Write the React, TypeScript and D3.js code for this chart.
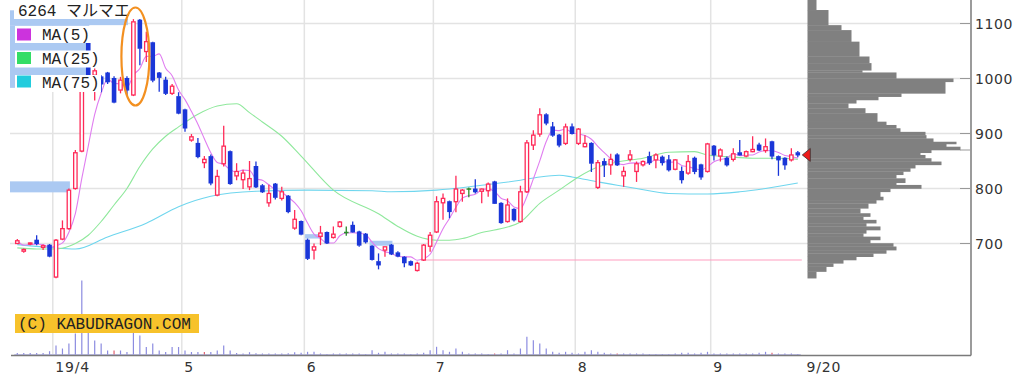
import React from "react";
import * as d3 from "d3";

const opens = [700,686,699,706,693,697,639,708,727,800,868,1072,1006,1003,1010,1000,979,1000,970,1106,1049,1065,1010,997,973,967,943,888,882,847,858,788,845,867,823,816,803,840,805,774,808,782,786,728,740,706,688,713,720,711,731,720,733,721,717,695,667,688,697,683,675,667,651,670,695,721,774,776,776,791,799,799,795,796,812,773,740,762,740,794,879,899,934,912,897,882,912,882,876,882,802,849,843,861,823,853,831,843,858,852,857,852,835,831,828,855,843,831,877,859,855,853,865,859,867,879,869,885,858,855,852,865];
const highs = [708,691,702,715,698,699,708,742,800,870,1003,1080,1018,1006,1012,1004,1003,1004,1108,1108,1085,1067,1012,1003,990,975,945,899,892,859,862,834,914,869,846,834,850,849,808,807,810,803,788,761,742,709,700,732,722,731,741,731,740,723,719,697,682,694,699,686,677,669,667,699,721,786,791,778,823,799,802,817,800,811,814,775,782,764,805,888,906,946,937,921,899,918,918,910,897,884,852,855,863,864,840,870,849,851,867,864,860,861,853,840,861,858,845,883,879,873,858,873,888,869,895,883,891,887,860,857,873,868];
const lows = [699,683,697,697,688,675,637,706,725,798,866,985,960,975,990,955,973,968,968,1024,1030,993,976,970,970,935,903,885,855,837,806,786,840,807,815,799,797,801,792,767,780,778,755,725,715,670,671,697,699,709,729,714,720,694,700,669,653,676,679,675,657,659,649,668,685,719,743,746,757,776,784,791,773,785,772,736,738,740,738,792,870,894,915,894,875,879,898,879,875,830,799,821,825,841,803,849,812,840,843,837,842,831,833,809,825,826,816,829,851,849,840,849,860,857,866,868,865,853,823,834,849,857];
const closes = [705,689,701,700,696,677,706,727,797,865,997,1000,1014,990,994,957,997,979,1103,1055,1067,997,1002,973,986,937,910,894,858,853,810,822,877,809,831,828,818,803,794,791,784,794,758,744,717,673,694,719,701,717,739,720,721,697,703,671,661,694,681,677,665,661,664,697,715,776,782,758,799,797,799,794,799,808,773,738,770,743,794,883,897,934,919,897,879,912,900,908,882,846,847,843,853,843,831,861,845,849,847,861,847,834,852,816,849,831,821,881,861,870,843,863,861,867,871,870,876,859,852,843,861,861];
const volumes = [30,30,30,30,30,66,180,120,220,420,1480,440,280,220,80,80,80,50,440,380,150,220,80,50,150,150,80,50,50,50,50,80,180,80,30,20,46,26,20,20,20,20,26,46,34,54,54,20,10,20,20,20,20,20,10,86,34,54,20,20,20,10,20,34,86,154,86,54,120,54,20,20,20,10,20,20,86,20,120,354,286,220,120,54,34,54,34,20,54,86,54,34,20,20,20,20,20,20,10,10,10,10,20,34,34,20,34,54,20,20,20,20,20,20,20,34,54,34,20,20,20,10];
const volumeRedDays = [15, 29, 74, 93, 117];

const ma25Idx = [0,3,6,8,9,11,13,15,17,19,21,23,25,28,31,34,36,38,41,44,49,56,59,62,65,67,69,72,76,78,81,84,87,90,93,97,101,105,107,110,114,118,121];
const ma25Val = [692,690,690,695,700,715,740,770,800,840,872,895,912,935,950,954,938,921,895,859,797,754,731,713,706,706,709,720,730,739,773,797,821,839,848,855,866,867,861,858,855,855,853];
const ma75Idx = [0,5,9,14,20,25,30,37,45,55,58,65,67,72,78,81,84,86,90,93,96,101,107,112,116,121];
const ma75Val = [698,693,690,712,737,767,786,795,797,796,794,797,799,806,815,821,824,821,812,806,800,791,790,794,800,810];

const priceTicks = [700, 800, 900, 1000, 1100];
const monthIdx = [6, 26, 45, 65, 87, 108];
const monthLabels = ["19/4", "5", "6", "7", "8", "9"];
const lastLabel = "9/20";

// gaps: [startIdx (-1 = before window), endIdx, low, high]
const gapStart = [-1, -1, -1, 45, 55];
const gapEnd = [8, 17, 11, 47, 58];
const gapLow = [793, 1097, 983, 709, 696];
const gapHigh = [813, 1124, 1097, 717, 705];

const supportPrice = 670;
const supportFrom = 63;

// volume-by-price profile
const histEdges = [1143,1124.5,1097,1088,1067,1040,1028,1015,1011,1000,994,973,967,961,955,946,937,921.5,915.5,909.5,903,897,891,885,881,876,870,865,861,855,849,843,837,831,825,818.5,810.5,806.5,800,794,785,779,773,764,755,749,743,737,731,724.5,718.5,712.5,706.5,700.5,694.5,688,682,676,670,664,658,649,637];
const histVol = [9,21,34,44,52,62,64,55,89,146,138,94,71,49,41,58,70,79,89,93,118,119,126,149,139,153,124,113,118,124,134,108,103,96,89,98,89,114,83,73,76,69,61,53,63,56,69,59,73,59,56,73,63,86,89,79,66,49,36,26,19,9];

const legendNames = ["MA(5)", "MA(25)", "MA(75)"];
const title = "6264 マルマエ";
const copyright = "(C) KABUDRAGON.COM";

export default function App() {
  const x = d3.scaleLinear().domain([0, 121]).range([17.3, 797.8]);
  const y = d3.scaleLinear().domain([700, 1100]).range([243.5, 23.5]);
  const step = x(1) - x(0);
  const vy = d3.scaleLinear().domain([0, 1480]).range([354.5, 280.5]);
  const hx = d3.scaleLinear().domain([0, 153]).range([807.5, 960.5]);

  const plotLeft = 10, plotRight = 971, plotBottom = 355.5;

  const ma5 = closes.map((_, i) => {
    const s = closes.slice(Math.max(0, i - 4), i + 1);
    return d3.mean(s) as number;
  });
  const line = d3.line<[number, number]>().x(d => x(d[0])).y(d => y(d[1])).curve(d3.curveMonotoneX);
  const ma5Path = line(ma5.map((v, i) => [i, v] as [number, number])) || "";
  const ma25Path = line(ma25Idx.map((i, k) => [i, ma25Val[k]] as [number, number])) || "";
  const ma75Path = line(ma75Idx.map((i, k) => [i, ma75Val[k]] as [number, number])) || "";

  const RED = "#ff2a58";
  const BLUE = "#1a36d8";
  const GREEN = "#2a8a2a";
  const bodyW = 4.6;

  const legendColors = ["#cc33dd", "#33dd66", "#22ccdd"];
  const axisFont = "'DejaVu Sans', Verdana, sans-serif";
  const monoFont = "'Liberation Mono', 'DejaVu Sans Mono', 'Noto Sans CJK JP', monospace";

  const lastY = y(closes[closes.length - 1]);
  const lastX = x(closes.length - 1);

  return (
    <svg width={1024} height={383} style={{ position: "absolute", left: 0, top: 0 }}>
      <rect x={0} y={0} width={1024} height={383} fill="#fff" />
      {/* grid */}
      {priceTicks.map(p => (
        <line key={"h" + p} x1={plotLeft} x2={plotRight} y1={y(p)} y2={y(p)} stroke="#e3e3e3" strokeWidth={1.5} />
      ))}
      {monthIdx.map(i => (
        <line key={"v" + i} x1={x(i) - step / 2} x2={x(i) - step / 2} y1={0} y2={plotBottom} stroke="#e3e3e3" strokeWidth={1.5} />
      ))}
      {/* gaps */}
      {gapStart.map((s, k) => {
        const x1 = s < 0 ? plotLeft : x(s) - 2.5;
        const x2 = x(gapEnd[k]) + 1;
        return <rect key={"g" + k} x={x1} y={y(gapHigh[k])} width={x2 - x1} height={y(gapLow[k]) - y(gapHigh[k])} fill="#abc9f2" />;
      })}
      {/* support line */}
      <line x1={x(supportFrom) - 2} x2={lastX + 4} y1={y(supportPrice)} y2={y(supportPrice)} stroke="#ff9ec0" strokeWidth={1.2} />
      {/* volume */}
      <line x1={x(0) - 3} x2={lastX + 3} y1={354.5} y2={354.5} stroke="#c4c4ee" strokeWidth={1} />
      {volumes.map((v, i) => (
        <line key={"vol" + i} x1={x(i)} x2={x(i)} y1={vy(0)} y2={vy(v)}
          stroke={volumeRedDays.includes(i) ? "#e06070" : "#8c8ce0"} strokeWidth={1.2} />
      ))}
      {/* MA lines */}
      <path d={ma75Path} fill="none" stroke="#6fd6ee" strokeWidth={1.1} />
      <path d={ma25Path} fill="none" stroke="#8fe89c" strokeWidth={1.1} />
      <path d={ma5Path} fill="none" stroke="#e07ef0" strokeWidth={1.1} />
      {/* candles */}
      {closes.map((c, i) => {
        const o = opens[i];
        const cx = x(i);
        const up = c > o;
        const doji = c === o;
        const col = doji ? GREEN : up ? RED : BLUE;
        const top = y(Math.max(o, c));
        const bot = y(Math.min(o, c));
        return (
          <g key={"c" + i}>
            <line x1={cx} x2={cx} y1={y(highs[i])} y2={top} stroke={col} strokeWidth={1.3} />
            <line x1={cx} x2={cx} y1={bot} y2={y(lows[i])} stroke={col} strokeWidth={1.3} />
            {doji ? (
              <line x1={cx - bodyW / 2} x2={cx + bodyW / 2} y1={top} y2={top} stroke={col} strokeWidth={1.5} />
            ) : up ? (
              <rect x={cx - bodyW / 2 + 0.6} y={top} width={bodyW - 1.2} height={Math.max(bot - top, 1)} fill="#fff" stroke={col} strokeWidth={1.3} />
            ) : (
              <rect x={cx - bodyW / 2} y={top - 0.5} width={bodyW} height={Math.max(bot - top, 1) + 1} fill={col} />
            )}
          </g>
        );
      })}
      {/* volume by price */}
      {histVol.map((v, k) => (
        <rect key={"hp" + k} x={hx(0)} y={y(histEdges[k])} width={hx(v) - hx(0)}
          height={y(histEdges[k + 1]) - y(histEdges[k]) + 0.3} fill="#808080" />
      ))}
      {/* last price marker */}
      <path d={`M${lastX + 4.5},${lastY} L${lastX + 12.5},${lastY - 6.5} L${lastX + 12.5},${lastY + 6.5} Z`} fill="#ee1b1b" stroke="#333" strokeWidth={0.8} />
      {/* axes */}
      <line x1={plotRight} x2={plotRight} y1={0} y2={plotBottom} stroke="#7a7a7a" strokeWidth={1.5} />
      <line x1={11} x2={plotRight} y1={plotBottom} y2={plotBottom} stroke="#7a7a7a" strokeWidth={1.5} />
      {priceTicks.map(p => (
        <g key={"t" + p}>
          <line x1={plotRight - 11} x2={plotRight} y1={y(p)} y2={y(p)} stroke="#999" strokeWidth={1} />
          <text x={975} y={y(p)} dy="0.36em" fontFamily={axisFont} fontSize={14} letterSpacing={0.6} fill="#333">{p}</text>
        </g>
      ))}
      <line x1={plotRight - 11} x2={plotRight} y1={150} y2={150} stroke="#999" strokeWidth={1} />
      {monthIdx.map((i, k) => (
        <text key={"ml" + i} x={x(i) - step / 2 + 2.5} y={372} fontFamily={axisFont} fontSize={14} letterSpacing={0.8} fill="#333">{monthLabels[k]}</text>
      ))}
      <text x={lastX + step / 2 + 5.5} y={372} fontFamily={axisFont} fontSize={14} letterSpacing={0.8} fill="#333">{lastLabel}</text>
      {/* legend */}
      <rect x={14} y={0} width={118} height={19} fill="#fff" />
      <text x={18} y={16} fontFamily={monoFont} fontSize={16} fill="#222">{title}</text>
      {legendNames.map((n, k) => (
        <g key={"lg" + n}>
          <rect x={15} y={26 + k * 24.5} width={86} height={17} fill="#fff" />
          <rect x={17} y={28.5 + k * 23.5} width={14} height={12} fill={legendColors[k]} />
          <text x={42} y={40 + k * 24} fontFamily={monoFont} fontSize={16} fill="#222">{n}</text>
        </g>
      ))}
      {/* highlight ellipse */}
      <ellipse cx={x(18) + 2} cy={y(1040)} rx={14} ry={49} fill="none" stroke="#f39020" strokeWidth={2.2} />
      {/* copyright */}
      <rect x={15} y={314} width={184} height={19} fill="#f7c22b" />
      <text x={18} y={328.5} fontFamily={monoFont} fontSize={16} fill="#222">{copyright}</text>
    </svg>
  );
}
